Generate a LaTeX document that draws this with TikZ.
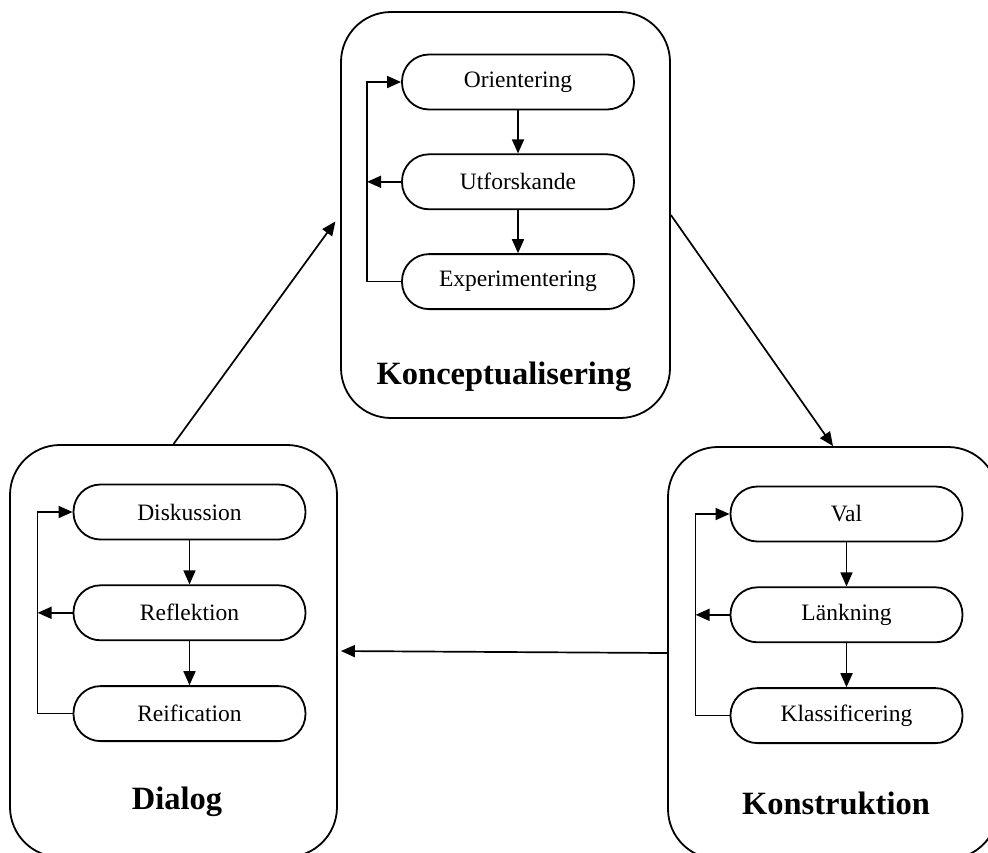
\documentclass[tikz,border=0pt]{standalone}
\usepackage{fontspec}
\setmainfont{Liberation Serif}
\usepackage{tikz}
\usetikzlibrary{positioning}
\usetikzlibrary{calc}
\usetikzlibrary{arrows.meta}

\tikzset{
    phase/.style={draw, line width=1.8pt, rounded corners=50pt, minimum width=329pt, minimum height=406pt},
    phasename/.style={font=\fontsize{32.5}{36}\selectfont\bfseries, text centered},
    stage/.style={draw, line width=1.8pt, rounded corners=27pt, minimum width=232pt, minimum height=55pt, font=\fontsize{23.5}{26}\selectfont, text centered},
    flow/.style={-{Triangle[length=14pt,width=12pt]}, line width=1.7pt}
}

\begin{document}
\begin{tikzpicture}[x=1pt, y=-1pt]
        \clip (0,0) rectangle (988,852);
        % nodes %
        \node[phase] (konc) at (505.5,215) {};
        \node[phase, minimum width=327pt, minimum height=412pt] (dialog) at (173.5,651) {};
        \node[phase, minimum width=330pt, minimum height=412pt] (konst) at (833,653) {};

        \node[phasename] (koncname) at (504,377) {Konceptualisering};
        \node[phasename] (dialogname) at (177,802) {Dialog};
        \node[phasename] (konstname) at (836,803) {Konstruktion};

        \node[stage] (orient) at (518,82) {Orientering};
        \node[stage, below=43pt of orient] (utfor) {Utforskande};
        \node[stage, below=43pt of utfor] (exper) {Experimentering};

        \node[stage] (disk) at (189.5,512) {Diskussion};
        \node[stage, below=44pt of disk] (refl) {Reflektion};
        \node[stage, below=44pt of refl] (reif) {Reification};

        \node[stage] (val) at (846.5,514) {Val};
        \node[stage, below=44pt of val] (lank) {Länkning};
        \node[stage, below=44pt of lank] (klass) {Klassificering};

        % edges %
        \draw[flow] (orient) -- (utfor);
        \draw[flow] (utfor) -- (exper);
        \draw[flow] (utfor.west) -- ++(-34,0);
        \draw[flow] (exper.west) -- ++(-34,0) |- (orient.west);

        \draw[flow] (disk) -- (refl);
        \draw[flow] (refl) -- (reif);
        \draw[flow] (refl.west) -- ++(-35,0);
        \draw[flow] (reif.west) -- ++(-35,0) |- (disk.west);

        \draw[flow] (val) -- (lank);
        \draw[flow] (lank) -- (klass);
        \draw[flow] (lank.west) -- ++(-34,0);
        \draw[flow] (klass.west) -- ++(-34,0) |- (val.west);

        \draw[flow, shorten >=8pt] (dialog.north) -- (konc.west);
        \draw[flow] (konc.east) -- (konst.north);
        \draw[flow, shorten >=3pt] (konst.west) -- (dialog.east);
\end{tikzpicture}
\end{document}
